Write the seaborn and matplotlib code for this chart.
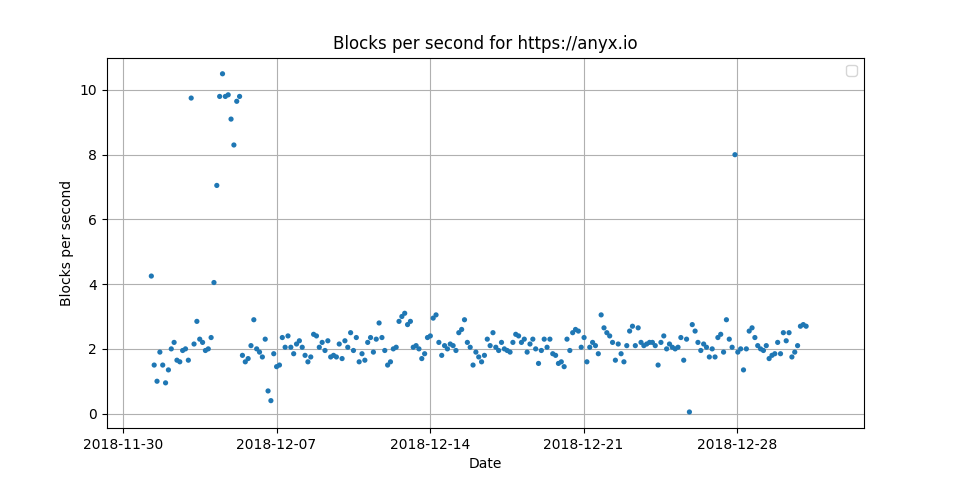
import numpy as np
import pandas as pd
import matplotlib
matplotlib.use("Agg")
import matplotlib.pyplot as plt
import matplotlib.dates as mdates
import seaborn as sns

blocks_per_second = [
    4.25, 1.5, 1.0, 1.9, 1.5, 0.95, 1.35, 2.0, 2.2, 1.65, 1.6, 1.95, 2.0, 1.65, 9.75, 2.15,
    2.85, 2.3, 2.2, 1.95, 2.0, 2.35, 4.05, 7.05, 9.8, 10.5, 9.8, 9.85, 9.1, 8.3, 9.65, 9.8,
    1.8, 1.6, 1.7, 2.1, 2.9, 2.0, 1.9, 1.75, 2.3, 0.7, 0.4, 1.85, 1.45, 1.5, 2.35, 2.05,
    2.4, 2.05, 1.85, 2.15, 2.25, 2.05, 1.8, 1.6, 1.75, 2.45, 2.4, 2.05, 2.2, 1.95, 2.25, 1.75,
    1.8, 1.75, 2.15, 1.7, 2.25, 2.05, 2.5, 1.95, 2.35, 1.6, 1.85, 1.65, 2.2, 2.35, 1.9, 2.3,
    2.8, 2.35, 1.95, 1.5, 1.6, 2.0, 2.05, 2.85, 3.0, 3.1, 2.75, 2.85, 2.05, 2.1, 2.0, 1.7,
    1.85, 2.35, 2.4, 2.95, 3.05, 2.2, 1.8, 2.1, 2.0, 2.15, 2.1, 1.95, 2.5, 2.6, 2.9, 2.2,
    2.05, 1.5, 1.9, 1.75, 1.6, 1.8, 2.3, 2.1, 2.5, 2.05, 1.95, 2.2, 2.0, 1.95, 1.9, 2.2,
    2.45, 2.4, 2.2, 2.3, 1.9, 2.15, 2.3, 2.0, 1.55, 1.95, 2.3, 2.05, 2.3, 1.85, 1.8, 1.55,
    1.6, 1.45, 2.3, 1.95, 2.5, 2.6, 2.55, 2.05, 2.35, 1.6, 2.05, 2.2, 2.1, 1.85, 3.05, 2.65,
    2.5, 2.4, 2.2, 1.65, 2.15, 1.85, 1.6, 2.1, 2.55, 2.7, 2.1, 2.65, 2.2, 2.1, 2.15, 2.2,
    2.2, 2.1, 1.5, 2.2, 2.4, 2.0, 2.15, 2.05, 2.0, 2.05, 2.35, 1.65, 2.3, 0.05, 2.75, 2.55,
    2.2, 1.95, 2.15, 2.05, 1.75, 2.0, 1.75, 2.35, 2.45, 1.9, 2.9, 2.3, 2.05, 8.0, 1.9, 2.0,
    1.35, 2.0, 2.55, 2.65, 2.35, 2.1, 2.0, 1.95, 2.1, 1.7, 1.8, 1.85, 2.2, 1.85, 2.5, 2.25,
    2.5, 1.75, 1.9, 2.1, 2.7, 2.75, 2.7,
]
dates = pd.date_range("2018-12-01 07:00", "2018-12-31 03:40", periods=len(blocks_per_second))
df = pd.DataFrame({"Date": dates, "Blocks per second": blocks_per_second})
tick_dates = pd.to_datetime(["2018-11-30", "2018-12-07", "2018-12-14", "2018-12-21", "2018-12-28"])

fig, ax = plt.subplots(figsize=(9.6, 4.8), dpi=100)
fig.subplots_adjust(left=0.111, right=0.9, top=0.88, bottom=0.108)

sns.scatterplot(data=df, x="Date", y="Blocks per second", ax=ax,
                color="tab:blue", s=14, edgecolor="none")

ax.set_title("Blocks per second for https://anyx.io")
ax.set_ylim(-0.45, 11)
ax.set_xlim(pd.Timestamp("2018-11-29 06:00"), pd.Timestamp("2019-01-02 19:00"))
ax.set_xticks(tick_dates)
ax.xaxis.set_major_formatter(mdates.DateFormatter("%Y-%m-%d"))
ax.grid(True, color="#b0b0b0", linewidth=0.8)
ax.set_axisbelow(True)
ax.legend(handles=[], loc="upper right")

fig.savefig("out.png", dpi=100)
